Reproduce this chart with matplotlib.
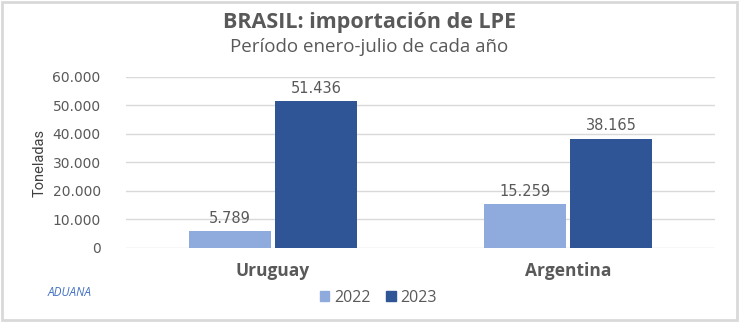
import numpy as np
import matplotlib
matplotlib.use("Agg")
import matplotlib.pyplot as plt
from matplotlib.patches import Rectangle, Patch

# data
categories = ["Uruguay", "Argentina"]
years = ["2022", "2023"]
vals_2022 = [5789, 15259]
vals_2023 = [51436, 38165]
yticks = [0, 10000, 20000, 30000, 40000, 50000, 60000]

C22 = "#8FAADC"
C23 = "#2F5597"
TXT = "#595959"


def fmt(v):
    return f"{v:,.0f}".replace(",", ".")


plt.rcParams["font.family"] = ["Open Sans", "DejaVu Sans"]

fig = plt.figure(figsize=(7.39, 3.22), dpi=100)
ax = fig.add_axes([0.170, 0.230, 0.798, 0.531])

x = np.arange(len(categories))
w = 0.28
gap = 0.006
b1 = ax.bar(x - w / 2 - gap, vals_2022, w, color=C22, zorder=3)
b2 = ax.bar(x + w / 2 + gap, vals_2023, w, color=C23, zorder=3)

for bars, vals in ((b1, vals_2022), (b2, vals_2023)):
    for r, v in zip(bars, vals):
        ax.text(r.get_x() + r.get_width() / 2, v + 2000, fmt(v), ha="center",
                va="bottom", fontsize=10.5, color=TXT, family="DejaVu Sans")

ax.set_xlim(-0.5, 1.5)
ax.set_ylim(0, 60000)
ax.set_yticks(yticks)
ax.set_yticklabels([fmt(t) for t in yticks], fontsize=10, color=TXT,
                   family="DejaVu Sans")
ax.set_xticks(x)
ax.set_xticklabels(categories, fontsize=12.5, fontweight="bold", color=TXT)
ax.tick_params(axis="both", length=0)
ax.tick_params(axis="y", pad=18)
ax.tick_params(axis="x", pad=10)
ax.grid(axis="y", color="#D9D9D9", lw=1.0, zorder=0)
for s in ax.spines.values():
    s.set_visible(False)

fig.text(0.054, 0.495, "Toneladas", rotation=90, ha="center", va="center",
         fontsize=10.5, color="#404040", family="Roboto", stretch="condensed")

fig.text(0.5, 0.930, "BRASIL: importación de LPE", ha="center", va="center",
         fontsize=15.5, fontweight="bold", color=TXT)
fig.text(0.5, 0.853, "Período enero-julio de cada año", ha="center",
         va="center", fontsize=13.5, color=TXT)

fig.text(0.065, 0.092, "ADUANA", ha="left", va="center", fontsize=8.5,
         style="italic", color="#4472C4")

handles = [Patch(color=C22, label=years[0]), Patch(color=C23, label=years[1])]
fig.legend(handles=handles, loc="center", bbox_to_anchor=(0.512, 0.075),
           ncol=2, frameon=False, fontsize=11.5, handlelength=0.6,
           handleheight=0.6, handletextpad=0.3, columnspacing=1.0,
           labelcolor=TXT)

fig.patches.append(Rectangle((0.003, 0.006), 0.994, 0.988,
                             transform=fig.transFigure, fill=False,
                             edgecolor="#D9D9D9", lw=2))

fig.savefig("out.png", dpi=100)
